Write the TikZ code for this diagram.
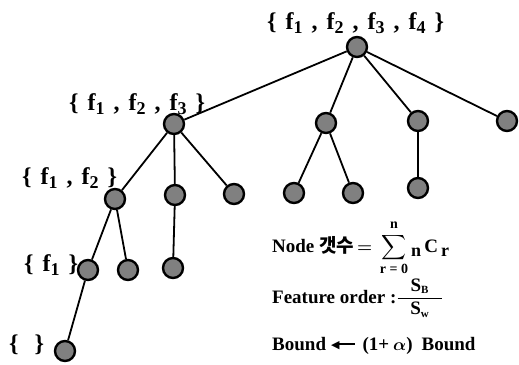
\documentclass[tikz,border=0pt]{standalone}
\usepackage{amsmath}
\usepackage{fontspec}
\setmainfont{Liberation Serif}
\newfontfamily\krfont{Noto Sans CJK KR}
\newfontfamily\symfont{DejaVu Sans}
\newcommand\fsb[1]{\raisebox{-4pt}{\fontsize{18}{18}\selectfont #1}}
\newcommand\gap{\hspace{9pt}}
\begin{document}
\begin{tikzpicture}[x=1pt,y=-1pt,
  tn/.style={circle,draw=black,line width=2.4pt,fill=black!50,minimum size=20pt,inner sep=0pt},
  edge/.style={line width=1.8pt},
  lbl/.style={anchor=base west,inner sep=0pt,font=\fontsize{24}{28}\selectfont\bfseries},
  txt/.style={anchor=base west,inner sep=0pt,font=\fontsize{19}{22}\selectfont\bfseries}]
\useasboundingbox (0,0) rectangle (519,364);
% tree nodes
\node[tn] (root) at (357,47) {};
\node[tn] (a) at (174,124) {};
\node[tn] (b) at (326,123) {};
\node[tn] (c) at (418,121) {};
\node[tn] (d) at (507,121) {};
\node[tn] (aa) at (115,199) {};
\node[tn] (ab) at (175,195) {};
\node[tn] (ac) at (234,194) {};
\node[tn] (ba) at (294,193) {};
\node[tn] (bb) at (353,193) {};
\node[tn] (ca) at (418,188) {};
\node[tn] (aaa) at (88,270) {};
\node[tn] (aab) at (128,270) {};
\node[tn] (aba) at (173,268) {};
\node[tn] (aaaa) at (65,351) {};
% edges
\foreach \u/\v in {root/a,root/b,root/c,root/d,a/aa,a/ab,a/ac,b/ba,b/bb,c/ca,aa/aaa,aa/aab,ab/aba,aaa/aaaa}
  \draw[edge] (\u) -- (\v);
% labels
\node[lbl] (l0) at (267,29) {\{\gap f\fsb{1}\gap,\gap f\fsb{2}\gap,\gap f\fsb{3}\gap,\gap f\fsb{4}\gap\}};
\node[lbl] (l1) at (69,110) {\{\gap f\fsb{1}\gap,\gap f\fsb{2}\gap,\gap f\fsb{3}\gap\}};
\node[lbl] (l2) at (22,184) {\{\gap f\fsb{1}\gap,\gap f\fsb{2}\gap\}};
\node[lbl] (l3) at (24,271) {\{\gap f\fsb{1}\gap\}};
\node[lbl] (l4) at (9,351) {\{\hspace{16pt}\}};
% formulas
\node[txt] (t1) at (272,252) {Node {\krfont 갯수}$\,\boldsymbol{=}\,\displaystyle\sum_{\mbox{\fontsize{14}{14}\selectfont\bfseries r = 0}}^{\raisebox{2pt}{\fontsize{14}{14}\selectfont\bfseries n}}$\,\fsb{n}\,C\,\fsb{r}};
\node[txt] (t2) at (272,303) {Feature order :$\dfrac{\hspace{13pt}\mbox{\bfseries S}_{\mbox{\fontsize{11}{11}\selectfont\bfseries B}}\hspace{13pt}}{\mbox{\bfseries S}_{\mbox{\fontsize{11}{11}\selectfont\bfseries w}}}$};
\node[txt] (t3) at (272,350) {Bound\hspace{5pt}\raisebox{2pt}{\symfont\fontsize{11}{11}\selectfont ◀}\kern-2pt\rule[5.5pt]{17pt}{1.8pt}\hspace{8pt}(1+\hspace{4pt}$\boldsymbol{\alpha}$)\hspace{9pt}Bound};
\end{tikzpicture}
\end{document}
